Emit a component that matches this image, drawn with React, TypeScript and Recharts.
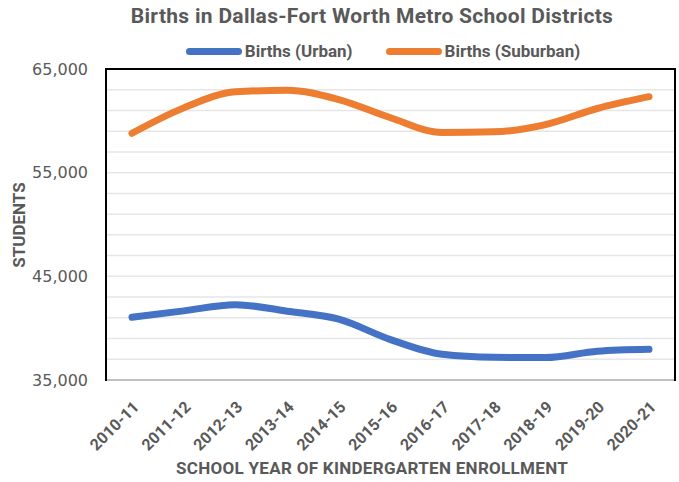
import React from 'react';
import { LineChart, Line, XAxis, YAxis, CartesianGrid } from 'recharts';

const years = ['2010-11', '2011-12', '2012-13', '2013-14', '2014-15', '2015-16', '2016-17', '2017-18', '2018-19', '2019-20', '2020-21'];
const urbanBirths = [41050, 41670, 42260, 41640, 40870, 38900, 37480, 37190, 37160, 37770, 37960];
const suburbanBirths = [58800, 61250, 62800, 62950, 62050, 60300, 58870, 58940, 59640, 61190, 62330];
const yTicks = [35000, 37000, 39000, 41000, 43000, 45000, 47000, 49000, 51000, 53000, 55000, 57000, 59000, 61000, 63000, 65000];
const labeledTicks = [35000, 45000, 55000, 65000];
const seriesInfo = [
  { key: 'urban', name: 'Births (Urban)', color: '#4472C4' },
  { key: 'suburban', name: 'Births (Suburban)', color: '#ED7D31' },
];

const data = years.map((year, i) => ({ year, urban: urbanBirths[i], suburban: suburbanBirths[i] }));

const GRAY = '#595959';
const FONT = 'Roboto, sans-serif';

const XTick = (props: any) => {
  const { x, y, payload } = props;
  const tx = x + 5;
  const ty = y + 17;
  return (
    <text
      x={tx}
      y={ty}
      transform={`rotate(-45, ${tx}, ${ty})`}
      textAnchor="end"
      dominantBaseline="middle"
      style={{ fontFamily: FONT, fontSize: 16, fontWeight: 700, fill: GRAY }}
    >
      {payload.value}
    </text>
  );
};

export default function App() {
  return (
    <div style={{ position: 'absolute', left: 0, top: 0, width: 679, height: 482, background: '#fff' }}>
      {/* title */}
      <div
        style={{
          position: 'absolute',
          left: 72,
          top: 4,
          width: 600,
          textAlign: 'center',
          fontFamily: FONT,
          fontSize: 21,
          letterSpacing: 0.3,
          fontWeight: 700,
          color: GRAY,
        }}
      >
        Births in Dallas-Fort Worth Metro School Districts
      </div>
      {/* legend */}
      <div
        style={{
          position: 'absolute',
          left: 83,
          top: 41,
          width: 600,
          display: 'flex',
          justifyContent: 'center',
          gap: 33,
          fontFamily: FONT,
          fontSize: 17,
          fontWeight: 700,
          color: GRAY,
        }}
      >
        {seriesInfo.map(item => (
          <div key={item.key} style={{ display: 'flex', alignItems: 'center' }}>
            <span style={{ display: 'inline-block', width: 56, height: 7, borderRadius: 4, background: item.color, marginRight: 3 }} />
            <span>{item.name}</span>
          </div>
        ))}
      </div>
      <LineChart width={679} height={482} data={data} margin={{ top: 69, right: 4, bottom: 32, left: 0 }}>
        <CartesianGrid horizontal vertical={false} stroke="#e6e6e6" strokeWidth={1.5} />
        <XAxis
          dataKey="year"
          height={70}
          interval={0}
          padding={{ left: 26, right: 26 }}
          tickLine={false}
          axisLine={{ stroke: '#bfbfbf', strokeWidth: 2 }}
          tick={<XTick />}
        />
        <YAxis
          width={106}
          domain={[35000, 65000]}
          ticks={yTicks}
          interval={0}
          axisLine={false}
          tickLine={false}
          tickMargin={12}
          tickFormatter={v => (labeledTicks.includes(v) ? v.toLocaleString('en-US') : '')}
          tick={{ fontFamily: 'DejaVu Sans', fontSize: 16, fill: GRAY }}
        />
        {seriesInfo.map(item => (
          <Line
            key={item.key}
            type="monotone"
            dataKey={item.key}
            name={item.name}
            stroke={item.color}
            strokeWidth={7}
            strokeLinecap="round"
            dot={false}
            isAnimationActive={false}
          />
        ))}
      </LineChart>
      {/* plot border */}
      <div
        style={{
          position: 'absolute',
          left: 105,
          top: 68,
          width: 567,
          height: 311,
          borderTop: '2px solid #000',
          borderLeft: '2px solid #000',
          borderRight: '2px solid #000',
          pointerEvents: 'none',
        }}
      />
      <div
        style={{
          position: 'absolute',
          left: 19,
          top: 225,
          transform: 'translate(-50%, -50%) rotate(-90deg)',
          fontFamily: FONT,
          fontSize: 17,
          fontWeight: 700,
          color: GRAY,
          whiteSpace: 'nowrap',
        }}
      >
        STUDENTS
      </div>
      <div
        style={{
          position: 'absolute',
          left: 72,
          top: 458,
          width: 600,
          textAlign: 'center',
          fontFamily: FONT,
          fontSize: 17,
          letterSpacing: 0.3,
          fontWeight: 700,
          color: GRAY,
        }}
      >
        SCHOOL YEAR OF KINDERGARTEN ENROLLMENT
      </div>
    </div>
  );
}
